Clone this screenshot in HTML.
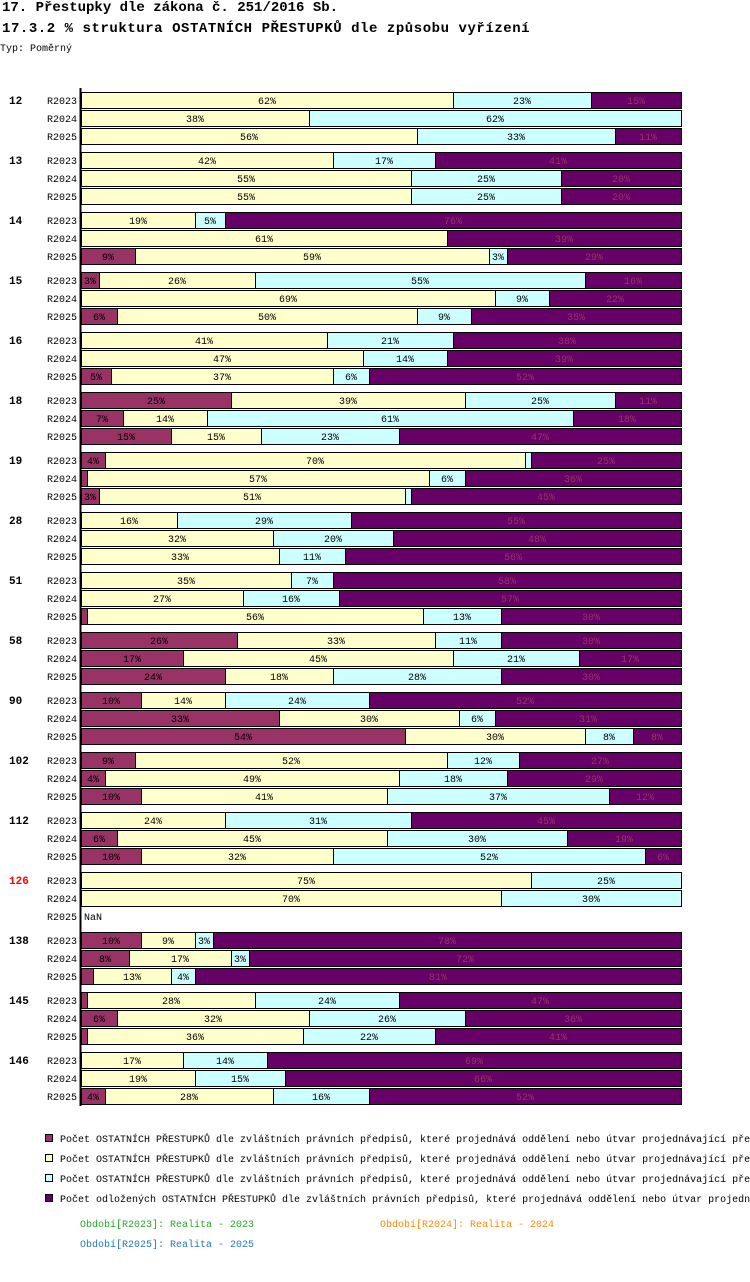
<!DOCTYPE html>
<html><head><meta charset="utf-8"><style>
body{margin:0;background:#fff;width:750px;height:1282px;overflow:hidden;font-family:"Liberation Mono","DejaVu Sans Mono",monospace;}
#wrap{position:relative;width:750px;height:1282px;}
.t{position:absolute;white-space:nowrap;}
</style></head><body><div id="wrap">
<div class="t" style="left:2px;top:0px;font-size:14px;font-weight:bold">17. Přestupky dle zákona č. 251/2016 Sb.</div>
<div class="t" style="left:2px;top:21px;font-size:14px;font-weight:bold;letter-spacing:0.55px">17.3.2 % struktura OSTATNÍCH PŘESTUPKŮ dle způsobu vyřízení</div>
<div class="t" style="left:0px;top:44px;font-size:10px">Typ: Poměrný</div>
<svg id="chart" width="750" height="1282" style="position:absolute;left:0;top:0"></svg>
</div>
<script>
const groups=["12","13","14","15","16","18","19","28","51","58","90","102","112","126","138","145","146"];
const periods=["R2023","R2024","R2025"];
const s1=[[0,0,0],[0,0,0],[0,0,9],[3,0,6],[0,0,5],[25,7,15],[4,1,3],[0,0,0],[0,0,1],[26,17,24],[10,33,54],[9,4,10],[0,6,10],[0,0,null],[10,8,2],[1,6,1],[0,0,4]];
const s2=[[62,38,56],[42,55,55],[19,61,59],[26,69,50],[41,47,37],[39,14,15],[70,57,51],[16,32,33],[35,27,56],[33,45,18],[14,30,30],[52,49,41],[24,45,32],[75,70,null],[9,17,13],[28,32,36],[17,19,28]];
const s3=[[23,62,33],[17,25,25],[5,0,3],[55,9,9],[21,14,6],[25,61,23],[1,6,1],[29,20,11],[7,16,13],[11,21,28],[24,6,8],[12,18,37],[31,30,52],[25,30,null],[3,3,4],[24,26,22],[14,15,16]];
const s4=[[15,0,11],[41,20,20],[76,39,29],[16,22,35],[38,39,52],[11,18,47],[25,36,45],[55,48,56],[58,57,30],[30,17,30],[52,31,8],[27,29,12],[45,19,6],[0,0,null],[78,72,81],[47,36,41],[69,66,52]];
const series=[s1,s2,s3,s4];
const colors=["#993366","#ffffcc","#ccffff","#660066"];
const txtCol=["#000","#000","#000","#993366"];
const X0=81,W=600,Y0=92,GP=60,RP=18,BH=16;
const xs=v=>X0+v/100*W;
const svg=document.getElementById('chart');
const NS="http://www.w3.org/2000/svg";
function mk(tag,attrs){const e=document.createElementNS(NS,tag);for(const k in attrs)e.setAttribute(k,attrs[k]);svg.appendChild(e);return e;}
groups.forEach((g,gi)=>{
  const gy=Y0+gi*GP;
  const gl=mk('text',{x:9,y:gy+12,'font-size':11,'font-weight':'bold','font-family':'Liberation Mono, monospace',fill:g==="126"?"#ff0000":"#000"});
  gl.textContent=g;
  
  
  periods.forEach((p,pi)=>{
    const y=gy+pi*RP;
    const pl=mk('text',{x:47,y:y+12,'font-size':10,'font-family':'Liberation Mono, monospace',fill:'#000'});
    pl.textContent=p;
    
    
    if(series[0][gi][pi]===null){
      const n=mk('text',{x:84,y:y+12,'font-size':10,'font-family':'Liberation Mono, monospace',fill:'#000'});
      n.textContent="NaN";
      
      
      return;
    }
    let acc=0;
    series.forEach((s,si)=>{
      const v=s[gi][pi];
      if(v<=0){return;}
      const x1=xs(acc),x2=xs(acc+v);
      const r=mk('rect',{x:x1+0.5,y:y+0.5,width:x2-x1,height:BH,fill:colors[si],stroke:'#000','stroke-width':1});
      
      
      if(v>=3){
        const t=mk('text',{x:(x1+x2)/2,y:y+12,'font-size':10,'text-anchor':'middle','font-family':'Liberation Mono, monospace',fill:txtCol[si]});
        t.textContent=v+"%";
        
        
      }
      acc+=v;
    });
  });
});
const ax=mk('line',{x1:80.5,y1:88,x2:80.5,y2:1106,stroke:'#000','stroke-width':2});


const legendTexts=["Počet OSTATNÍCH PŘESTUPKŮ dle zvláštních právních předpisů, které projednává oddělení nebo útvar projednávající pře…","Počet OSTATNÍCH PŘESTUPKŮ dle zvláštních právních předpisů, které projednává oddělení nebo útvar projednávající pře…","Počet OSTATNÍCH PŘESTUPKŮ dle zvláštních právních předpisů, které projednává oddělení nebo útvar projednávající pře…","Počet odložených OSTATNÍCH PŘESTUPKŮ dle zvláštních právních předpisů, které projednává oddělení nebo útvar projedn…"];
legendTexts.forEach((lt,i)=>{
  const y=1134+i*20;
  const sw=mk('rect',{x:45.5,y:y+0.5,width:7,height:7,fill:colors[i],stroke:'#000','stroke-width':1});
  
  
  const t=mk('text',{x:60,y:y+8,'font-size':10,'font-family':'Liberation Mono, monospace',fill:'#000'});
  t.textContent=lt;
  
  
});
const per=[["Období[R2023]: Realita - 2023",80,1227,"#22aa22"],["Období[R2024]: Realita - 2024",380,1227,"#ff8800"],["Období[R2025]: Realita - 2025",80,1247,"#2277bb"]];
per.forEach(p=>{
  const t=mk('text',{x:p[1],y:p[2],'font-size':10,'font-family':'Liberation Mono, monospace',fill:p[3]});
  t.textContent=p[0];
  
  
});
</script></body></html>
